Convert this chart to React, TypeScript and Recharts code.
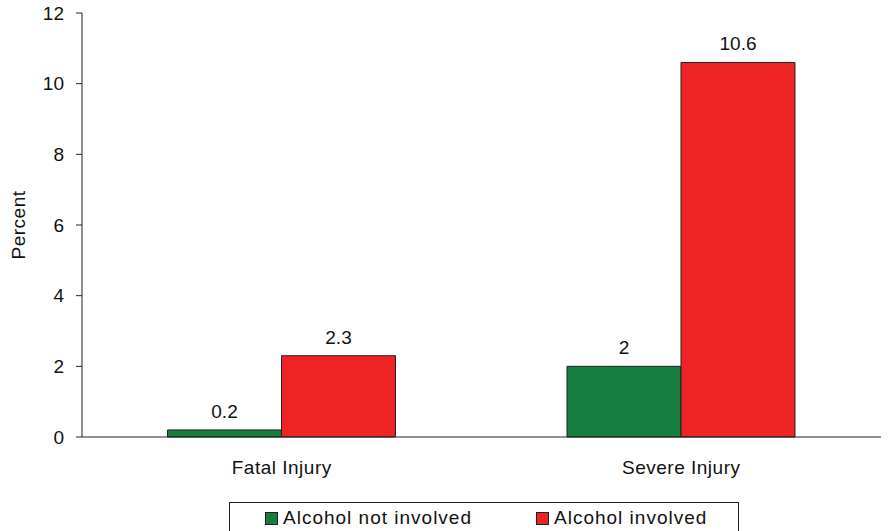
import { BarChart, Bar, XAxis, YAxis, Legend, LabelList } from 'recharts'

const categories = ['Fatal Injury', 'Severe Injury']
const notInvolved = [0.2, 2]
const involved = [2.3, 10.6]
const yTicks = [0, 2, 4, 6, 8, 10, 12]
const seriesOrder = ['notInvolved', 'involved']

const GREEN = '#167f40'
const RED = '#ee2325'
const FONT = '"Liberation Sans", Arial, sans-serif'

const data = categories.map((name, i) => ({
  name,
  notInvolved: notInvolved[i],
  involved: involved[i],
}))

function CategoryTick(props: any) {
  const { x, y, x1, y1, y2, payload, index, width, visibleTicksCount } = props
  const half = payload.offset || (width / (visibleTicksCount || 1)) / 2
  return (
    <g>
      {index === 0 && <line x1={x1 - half} x2={x1 - half} y1={y1} y2={y2} stroke="#222" />}
      <line x1={x1 + half} x2={x1 + half} y1={y1} y2={y2} stroke="#222" />
      <text x={x} y={y} dy={29} textAnchor="middle" fill="#111" fontSize={19} letterSpacing={0.5} fontFamily={FONT}>
        {payload.value}
      </text>
    </g>
  )
}

function LegendBox(props: any) {
  const items = [...(props.payload || [])].sort(
    (a: any, b: any) => seriesOrder.indexOf(a.dataKey) - seriesOrder.indexOf(b.dataKey)
  )
  return (
    <div
      style={{
        width: 510,
        height: 34,
        border: '1px solid #222',
        boxSizing: 'border-box',
        display: 'flex',
        alignItems: 'flex-start',
        paddingTop: 4,
        fontFamily: FONT,
        fontSize: 19,
        letterSpacing: 1,
        color: '#111',
      }}
    >
      {items.map((it: any, i: number) => (
        <div key={i} style={{ display: 'flex', alignItems: 'center', marginLeft: i === 0 ? 35 : 64 }}>
          <span style={{ width: 11, height: 11, background: it.color, border: '1px solid #222', marginRight: 5 }} />
          <span>{it.value}</span>
        </div>
      ))}
    </div>
  )
}

export default function App() {
  return (
    <div style={{ position: 'absolute', left: 0, top: 0, background: '#fff' }}>
      <BarChart
        width={888}
        height={531}
        data={data}
        margin={{ top: 13, right: 7, bottom: 0, left: 0 }}
        barCategoryGap="21.4%"
        barGap={0}
      >
        <XAxis
          dataKey="name"
          stroke="#222"
          tickLine={false}
          tick={<CategoryTick />}
          height={60}
          interval={0}
        />
        <YAxis
          domain={[0, 12]}
          ticks={yTicks}
          width={82}
          stroke="#222"
          tickMargin={12}
          tick={{ fontSize: 19, fill: '#111', fontFamily: FONT }}
          label={{
            content: (p: any) => {
              const vb = p.viewBox
              const cx = 18
              const cy = vb.y + vb.height / 2
              return (
                <text
                  transform={`translate(${cx},${cy}) rotate(-90)`}
                  textAnchor="middle"
                  dominantBaseline="central"
                  fontSize={19}
                  letterSpacing={0.5}
                  fill="#111"
                  fontFamily={FONT}
                >
                  Percent
                </text>
              )
            },
          }}
        />
        <Legend
          verticalAlign="bottom"
          content={<LegendBox />}
          wrapperStyle={{ left: 229, top: 502, width: 510, height: 34 }}
        />
        <Bar dataKey="notInvolved" name="Alcohol not involved" fill={GREEN} stroke="#222" isAnimationActive={false}>
          <LabelList dataKey="notInvolved" position="top" offset={12} fontSize={19} fill="#111" fontFamily={FONT} />
        </Bar>
        <Bar dataKey="involved" name="Alcohol involved" fill={RED} stroke="#222" isAnimationActive={false}>
          <LabelList dataKey="involved" position="top" offset={12} fontSize={19} fill="#111" fontFamily={FONT} />
        </Bar>
      </BarChart>
    </div>
  )
}
